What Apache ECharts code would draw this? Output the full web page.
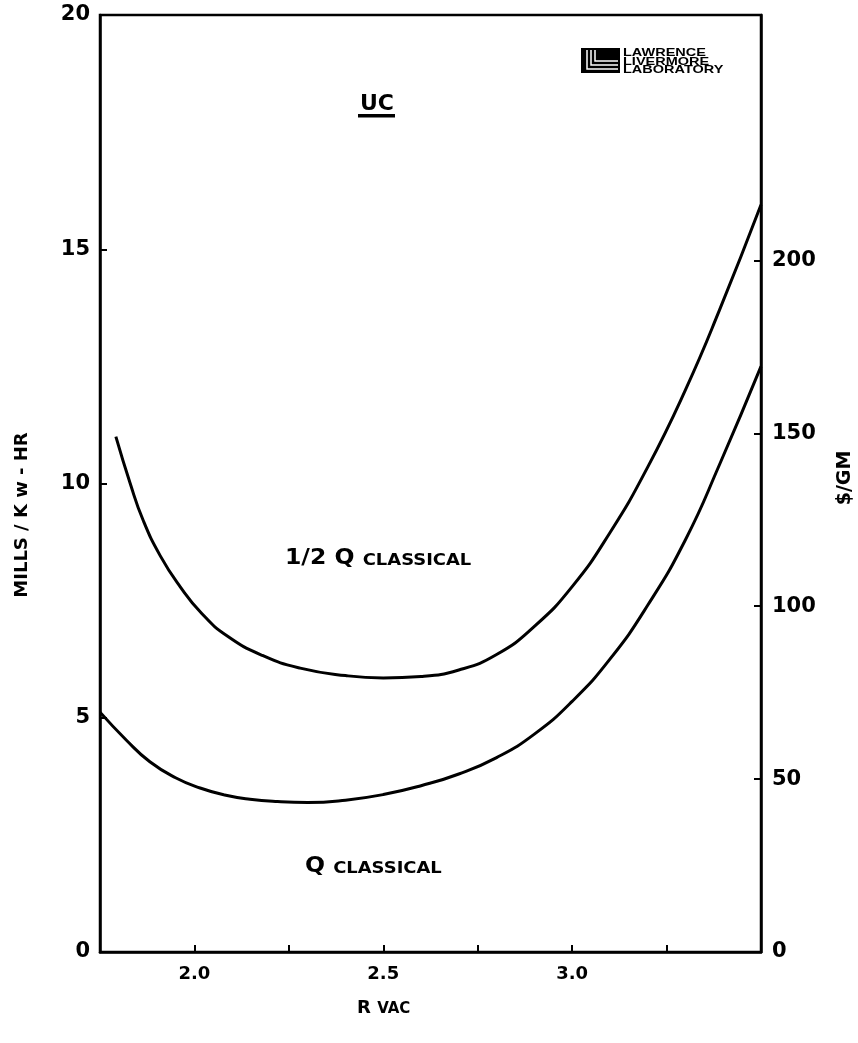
<!DOCTYPE html>
<html>
<head>
<meta charset="utf-8">
<script src="https://cdn.jsdelivr.net/npm/echarts@6/dist/echarts.min.js"></script>
<style>
  html, body { margin: 0; padding: 0; background: #fff; }
  #chart { width: 858px; height: 1043px; }
</style>
</head>
<body>
<div id="chart"></div>
<script>
// Cost curves versus R_VAC for uranium carbide (UC)
const halfQX = [1.792, 1.83, 1.864, 1.91, 1.962, 2.02, 2.086, 2.18, 2.28, 2.40, 2.50, 2.60, 2.70, 2.80, 2.90, 3.00, 3.10, 3.20, 3.30, 3.39, 3.50];
const halfQY = [11.0, 10.0, 9.22, 8.45, 7.80, 7.22, 6.75, 6.33, 6.06, 5.90, 5.85, 5.88, 6.02, 6.35, 6.95, 7.80, 8.95, 10.35, 12.0, 13.7, 15.95];

const qX = [1.75, 1.82, 1.882, 1.95, 2.015, 2.08, 2.147, 2.22, 2.30, 2.40, 2.50, 2.60, 2.70, 2.80, 2.90, 3.00, 3.10, 3.20, 3.30, 3.39, 3.50];
const qY = [5.12, 4.52, 4.06, 3.72, 3.50, 3.35, 3.26, 3.21, 3.19, 3.24, 3.36, 3.55, 3.80, 4.15, 4.65, 5.35, 6.25, 7.40, 8.80, 10.4, 12.5];

const xLabeled = [2.0, 2.5, 3.0];
const millsLabels = [0, 5, 10, 15, 20];
const dollarLabels = [0, 50, 100, 150, 200];
const dollarTicks = [50, 100, 150, 200];

const FONT = '"DejaVu Sans", "Liberation Sans", sans-serif';
const NARROW = '"Liberation Sans", Arial, sans-serif';
const pair = (xs, ys) => xs.map((x, i) => [x, ys[i]]);

const chart = echarts.init(document.getElementById('chart'), null, { renderer: 'canvas' });

const subLabel = (main, sub, left, top, mainSize, subSize, drop) => ({
  type: 'text', left: left, top: top, scaleX: 1.12,
  style: {
    text: '{a|' + main + '}{b|' + sub + '}',
    rich: {
      a: { fill: '#000', font: 'bold ' + mainSize + 'px ' + FONT, verticalAlign: 'bottom' },
      b: { fill: '#000', font: 'bold ' + subSize + 'px ' + FONT, padding: [drop, 0, 0, 0], verticalAlign: 'bottom' }
    }
  }
});

chart.setOption({
  backgroundColor: '#ffffff',
  animation: false,
  grid: {
    left: 100, right: 97, top: 15, bottom: 91,
    show: true, borderColor: '#000', borderWidth: 2.5
  },
  xAxis: {
    type: 'value', min: 1.75, max: 3.5, interval: 0.25,
    axisLine: { show: true, onZero: false, lineStyle: { color: '#000', width: 2.5 } },
    axisTick: { show: true, inside: true, length: 7, lineStyle: { color: '#000', width: 2 } },
    splitLine: { show: false },
    axisLabel: {
      margin: 13, color: '#000', fontFamily: FONT, fontWeight: 'bold', fontSize: 18,
      formatter: v => xLabeled.some(l => Math.abs(l - v) < 1e-6) ? v.toFixed(1) : ''
    }
  },
  yAxis: [
    {
      type: 'value', min: 0, max: 20, interval: 5, position: 'left',
      axisLine: { show: true, lineStyle: { color: '#000', width: 2.5 } },
      axisTick: { show: true, inside: true, length: 7, lineStyle: { color: '#000', width: 2 } },
      splitLine: { show: false },
      axisLabel: {
        margin: 10, color: '#000', fontFamily: FONT, fontWeight: 'bold', fontSize: 21,
        customValues: millsLabels
      }
    },
    {
      type: 'value', min: 0, max: 271, position: 'right',
      axisLine: { show: true, lineStyle: { color: '#000', width: 2.5 } },
      axisTick: { show: true, inside: true, length: 7, customValues: dollarTicks, lineStyle: { color: '#000', width: 2 } },
      splitLine: { show: false },
      axisLabel: {
        margin: 11, color: '#000', fontFamily: FONT, fontWeight: 'bold', fontSize: 21,
        customValues: dollarLabels
      }
    }
  ],
  series: [
    {
      name: '1/2 Q CLASSICAL', type: 'line', smooth: 0.5, showSymbol: false,
      data: pair(halfQX, halfQY),
      lineStyle: { color: '#000', width: 3 }
    },
    {
      name: 'Q CLASSICAL', type: 'line', smooth: 0.5, showSymbol: false,
      data: pair(qX, qY),
      lineStyle: { color: '#000', width: 3 }
    }
  ],
  graphic: [
    // UC heading, underlined
    {
      type: 'text', x: 377, y: 104,
      style: { text: 'UC', fill: '#000', font: 'bold 22px ' + FONT, align: 'center', verticalAlign: 'middle' }
    },
    { type: 'rect', shape: { x: 358, y: 114, width: 37, height: 3.5 }, style: { fill: '#000' } },
    // Curve labels
    subLabel('1/2 Q ', 'CLASSICAL', 285, 548, 21, 16, 9),
    subLabel('Q ', 'CLASSICAL', 305, 856, 21, 16, 9),
    // x-axis title
    {
      type: 'text', left: 357, top: 999,
      style: {
        text: '{a|R }{b|VAC}',
        rich: {
          a: { fill: '#000', font: 'bold 18px ' + FONT, verticalAlign: 'bottom' },
          b: { fill: '#000', font: 'bold 15px ' + FONT, padding: [14, 0, 0, 0], verticalAlign: 'bottom' }
        }
      }
    },
    // axis titles
    {
      type: 'text', x: 22, y: 515, rotation: Math.PI / 2,
      style: { text: 'MILLS / K w - HR', fill: '#000', font: 'bold 18px ' + FONT, align: 'center', verticalAlign: 'middle' }
    },
    {
      type: 'text', x: 845, y: 478, rotation: Math.PI / 2,
      style: { text: '$/GM', fill: '#000', font: 'bold 19px ' + FONT, align: 'center', verticalAlign: 'middle' }
    },
    // laboratory mark
    {
      type: 'group', x: 581, y: 48,
      children: [
        { type: 'rect', shape: { x: 0, y: 0, width: 39, height: 25 }, style: { fill: '#000' } },
        { type: 'polyline', shape: { points: [[6, 2], [6, 21], [37, 21]] }, style: { stroke: '#fff', lineWidth: 1.5, fill: null } },
        { type: 'polyline', shape: { points: [[10, 2], [10, 17], [37, 17]] }, style: { stroke: '#fff', lineWidth: 1.5, fill: null } },
        { type: 'polyline', shape: { points: [[14, 2], [14, 13], [37, 13]] }, style: { stroke: '#fff', lineWidth: 1.5, fill: null } },
        { type: 'text', x: 42, y: 0, scaleX: 1.38, style: { text: 'LAWRENCE', fill: '#000', font: 'bold 10.5px ' + NARROW } },
        { type: 'text', x: 42, y: 8.5, scaleX: 1.38, style: { text: 'LIVERMORE', fill: '#000', font: 'bold 10.5px ' + NARROW } },
        { type: 'text', x: 42, y: 17, scaleX: 1.38, style: { text: 'LABORATORY', fill: '#000', font: 'bold 10.5px ' + NARROW } }
      ]
    }
  ]
});
</script>
</body>
</html>
